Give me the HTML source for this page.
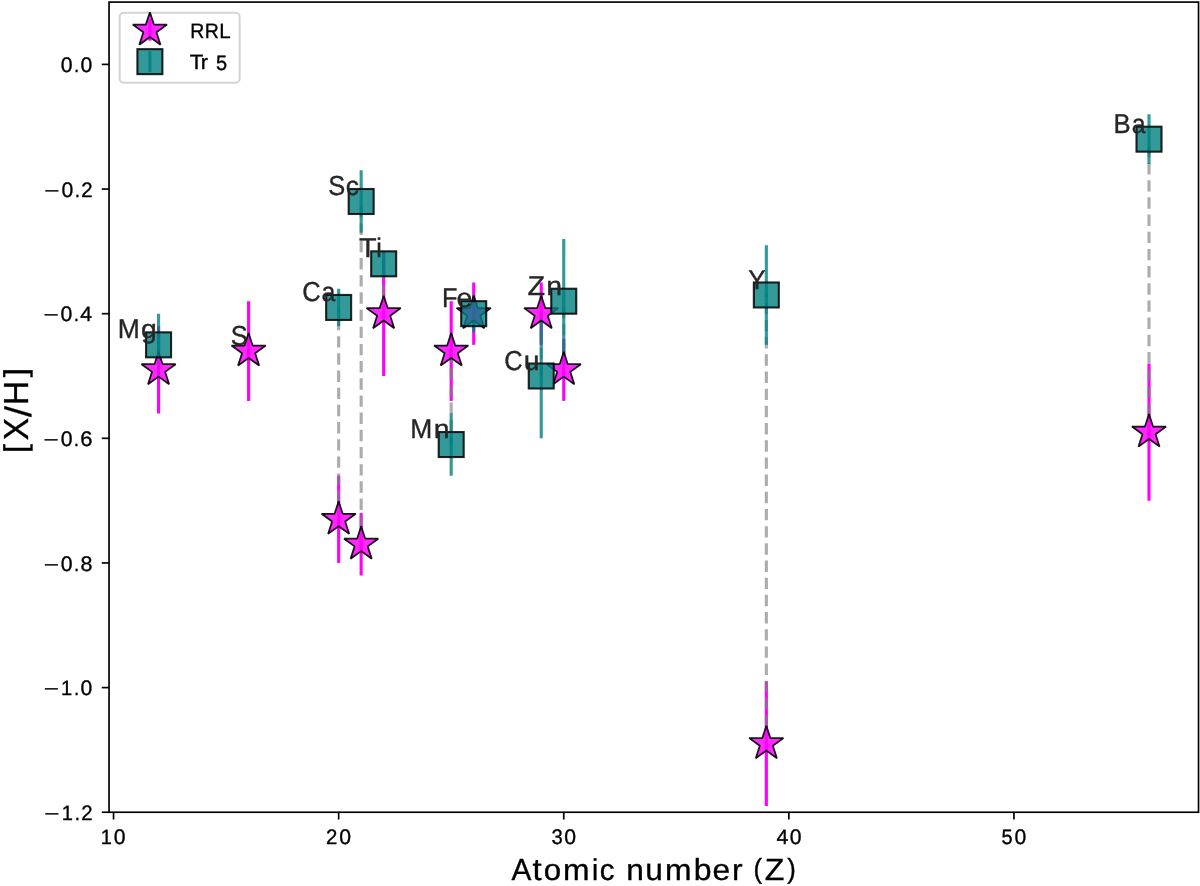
<!DOCTYPE html>
<html><head><meta charset="utf-8"><title>[X/H] vs Atomic number</title>
<style>
html,body{margin:0;padding:0;background:#fff;}
body{width:1200px;height:886px;overflow:hidden;position:relative;}
svg text{font-family:"Liberation Sans",sans-serif;text-rendering:geometricPrecision;}
</style></head><body>
<svg width="1200" height="886" viewBox="0 0 1200 886" style="position:absolute;left:0;top:0">
<rect width="1200" height="886" fill="#fff"/>
<defs><clipPath id="ax"><rect x="109.05" y="2.08" width="1089.48" height="810.16"/></clipPath></defs>
<g clip-path="url(#ax)">
<line x1="158.57" y1="326.14" x2="158.57" y2="413.39" stroke="#ff00ff" stroke-width="3.125"/>
<line x1="248.61" y1="301.22" x2="248.61" y2="400.93" stroke="#ff00ff" stroke-width="3.125"/>
<line x1="338.65" y1="475.71" x2="338.65" y2="562.96" stroke="#ff00ff" stroke-width="3.125"/>
<line x1="361.16" y1="513.10" x2="361.16" y2="575.42" stroke="#ff00ff" stroke-width="3.125"/>
<line x1="383.67" y1="251.36" x2="383.67" y2="376.00" stroke="#ff00ff" stroke-width="3.125"/>
<line x1="451.20" y1="301.22" x2="451.20" y2="400.93" stroke="#ff00ff" stroke-width="3.125"/>
<line x1="473.71" y1="282.52" x2="473.71" y2="344.84" stroke="#ff00ff" stroke-width="3.125"/>
<line x1="541.24" y1="282.52" x2="541.24" y2="344.84" stroke="#ff00ff" stroke-width="3.125"/>
<line x1="563.75" y1="338.61" x2="563.75" y2="400.93" stroke="#ff00ff" stroke-width="3.125"/>
<line x1="766.34" y1="681.37" x2="766.34" y2="806.01" stroke="#ff00ff" stroke-width="3.125"/>
<line x1="1149.01" y1="363.54" x2="1149.01" y2="500.64" stroke="#ff00ff" stroke-width="3.125"/>
<line x1="158.57" y1="369.77" x2="158.57" y2="344.84" stroke="#808080" stroke-opacity="0.65" stroke-width="3.125" stroke-dasharray="11.4 5.78"/>
<line x1="338.65" y1="519.34" x2="338.65" y2="307.45" stroke="#808080" stroke-opacity="0.65" stroke-width="3.125" stroke-dasharray="11.4 5.78"/>
<line x1="361.16" y1="544.26" x2="361.16" y2="201.50" stroke="#808080" stroke-opacity="0.65" stroke-width="3.125" stroke-dasharray="11.4 5.78"/>
<line x1="383.67" y1="313.68" x2="383.67" y2="263.82" stroke="#808080" stroke-opacity="0.65" stroke-width="3.125" stroke-dasharray="11.4 5.78"/>
<line x1="451.20" y1="351.07" x2="451.20" y2="444.55" stroke="#808080" stroke-opacity="0.65" stroke-width="3.125" stroke-dasharray="11.4 5.78"/>
<line x1="541.24" y1="313.68" x2="541.24" y2="376.00" stroke="#808080" stroke-opacity="0.65" stroke-width="3.125" stroke-dasharray="11.4 5.78"/>
<line x1="563.75" y1="369.77" x2="563.75" y2="301.22" stroke="#808080" stroke-opacity="0.65" stroke-width="3.125" stroke-dasharray="11.4 5.78"/>
<line x1="766.34" y1="743.69" x2="766.34" y2="294.98" stroke="#808080" stroke-opacity="0.65" stroke-width="3.125" stroke-dasharray="11.4 5.78"/>
<line x1="1149.01" y1="432.09" x2="1149.01" y2="139.18" stroke="#808080" stroke-opacity="0.65" stroke-width="3.125" stroke-dasharray="11.4 5.78"/>
<line x1="158.57" y1="313.68" x2="158.57" y2="376.00" stroke="#008080" stroke-opacity="0.8" stroke-width="3.125"/>
<line x1="338.65" y1="288.75" x2="338.65" y2="326.14" stroke="#008080" stroke-opacity="0.8" stroke-width="3.125"/>
<line x1="361.16" y1="170.34" x2="361.16" y2="232.66" stroke="#008080" stroke-opacity="0.8" stroke-width="3.125"/>
<line x1="383.67" y1="251.36" x2="383.67" y2="276.29" stroke="#008080" stroke-opacity="0.8" stroke-width="3.125"/>
<line x1="451.20" y1="413.39" x2="451.20" y2="475.71" stroke="#008080" stroke-opacity="0.8" stroke-width="3.125"/>
<line x1="473.71" y1="294.98" x2="473.71" y2="332.38" stroke="#008080" stroke-opacity="0.8" stroke-width="3.125"/>
<line x1="541.24" y1="313.68" x2="541.24" y2="438.32" stroke="#008080" stroke-opacity="0.8" stroke-width="3.125"/>
<line x1="563.75" y1="238.90" x2="563.75" y2="363.54" stroke="#008080" stroke-opacity="0.8" stroke-width="3.125"/>
<line x1="766.34" y1="245.13" x2="766.34" y2="344.84" stroke="#008080" stroke-opacity="0.8" stroke-width="3.125"/>
<line x1="1149.01" y1="114.26" x2="1149.01" y2="164.11" stroke="#008080" stroke-opacity="0.8" stroke-width="3.125"/>
<path d="M158.57,351.77 L154.53,364.21 L141.45,364.21 L152.03,371.89 L147.99,384.33 L158.57,376.64 L169.15,384.33 L165.11,371.89 L175.69,364.21 L162.61,364.21 Z" fill="#ff00ff" fill-opacity="0.85" stroke="#000" stroke-opacity="0.9" stroke-width="1.75" stroke-linejoin="bevel"/>
<path d="M248.61,333.07 L244.57,345.51 L231.49,345.51 L242.07,353.20 L238.03,365.63 L248.61,357.95 L259.19,365.63 L255.15,353.20 L265.73,345.51 L252.65,345.51 Z" fill="#ff00ff" fill-opacity="0.85" stroke="#000" stroke-opacity="0.9" stroke-width="1.75" stroke-linejoin="bevel"/>
<path d="M338.65,501.34 L334.61,513.77 L321.53,513.77 L332.11,521.46 L328.07,533.90 L338.65,526.21 L349.23,533.90 L345.19,521.46 L355.77,513.77 L342.69,513.77 Z" fill="#ff00ff" fill-opacity="0.85" stroke="#000" stroke-opacity="0.9" stroke-width="1.75" stroke-linejoin="bevel"/>
<path d="M361.16,526.26 L357.12,538.70 L344.04,538.70 L354.62,546.39 L350.58,558.83 L361.16,551.14 L371.74,558.83 L367.70,546.39 L378.28,538.70 L365.20,538.70 Z" fill="#ff00ff" fill-opacity="0.85" stroke="#000" stroke-opacity="0.9" stroke-width="1.75" stroke-linejoin="bevel"/>
<path d="M383.67,295.68 L379.63,308.12 L366.55,308.12 L377.13,315.80 L373.09,328.24 L383.67,320.56 L394.25,328.24 L390.21,315.80 L400.79,308.12 L387.71,308.12 Z" fill="#ff00ff" fill-opacity="0.85" stroke="#000" stroke-opacity="0.9" stroke-width="1.75" stroke-linejoin="bevel"/>
<path d="M451.20,333.07 L447.16,345.51 L434.08,345.51 L444.66,353.20 L440.62,365.63 L451.20,357.95 L461.78,365.63 L457.74,353.20 L468.32,345.51 L455.24,345.51 Z" fill="#ff00ff" fill-opacity="0.85" stroke="#000" stroke-opacity="0.9" stroke-width="1.75" stroke-linejoin="bevel"/>
<path d="M473.71,295.68 L469.67,308.12 L456.59,308.12 L467.17,315.80 L463.13,328.24 L473.71,320.56 L484.29,328.24 L480.25,315.80 L490.83,308.12 L477.75,308.12 Z" fill="#ff00ff" fill-opacity="0.85" stroke="#000" stroke-opacity="0.9" stroke-width="1.75" stroke-linejoin="bevel"/>
<path d="M541.24,295.68 L537.20,308.12 L524.12,308.12 L534.70,315.80 L530.66,328.24 L541.24,320.56 L551.82,328.24 L547.78,315.80 L558.36,308.12 L545.28,308.12 Z" fill="#ff00ff" fill-opacity="0.85" stroke="#000" stroke-opacity="0.9" stroke-width="1.75" stroke-linejoin="bevel"/>
<path d="M563.75,351.77 L559.71,364.21 L546.63,364.21 L557.21,371.89 L553.17,384.33 L563.75,376.64 L574.33,384.33 L570.29,371.89 L580.87,364.21 L567.79,364.21 Z" fill="#ff00ff" fill-opacity="0.85" stroke="#000" stroke-opacity="0.9" stroke-width="1.75" stroke-linejoin="bevel"/>
<path d="M766.34,725.69 L762.30,738.13 L749.22,738.13 L759.80,745.81 L755.76,758.25 L766.34,750.56 L776.92,758.25 L772.88,745.81 L783.46,738.13 L770.38,738.13 Z" fill="#ff00ff" fill-opacity="0.85" stroke="#000" stroke-opacity="0.9" stroke-width="1.75" stroke-linejoin="bevel"/>
<path d="M1149.01,414.09 L1144.97,426.53 L1131.89,426.53 L1142.47,434.21 L1138.43,446.65 L1149.01,438.96 L1159.59,446.65 L1155.55,434.21 L1166.13,426.53 L1153.05,426.53 Z" fill="#ff00ff" fill-opacity="0.85" stroke="#000" stroke-opacity="0.9" stroke-width="1.75" stroke-linejoin="bevel"/>
<rect x="146.07" y="332.34" width="25.0" height="25.0" fill="#008080" fill-opacity="0.8" stroke="#000" stroke-opacity="0.85" stroke-width="2.08"/>
<rect x="326.15" y="294.95" width="25.0" height="25.0" fill="#008080" fill-opacity="0.8" stroke="#000" stroke-opacity="0.85" stroke-width="2.08"/>
<rect x="348.66" y="189.00" width="25.0" height="25.0" fill="#008080" fill-opacity="0.8" stroke="#000" stroke-opacity="0.85" stroke-width="2.08"/>
<rect x="371.17" y="251.32" width="25.0" height="25.0" fill="#008080" fill-opacity="0.8" stroke="#000" stroke-opacity="0.85" stroke-width="2.08"/>
<rect x="438.70" y="432.05" width="25.0" height="25.0" fill="#008080" fill-opacity="0.8" stroke="#000" stroke-opacity="0.85" stroke-width="2.08"/>
<rect x="461.21" y="301.18" width="25.0" height="25.0" fill="#008080" fill-opacity="0.8" stroke="#000" stroke-opacity="0.85" stroke-width="2.08"/>
<rect x="528.74" y="363.50" width="25.0" height="25.0" fill="#008080" fill-opacity="0.8" stroke="#000" stroke-opacity="0.85" stroke-width="2.08"/>
<rect x="551.25" y="288.72" width="25.0" height="25.0" fill="#008080" fill-opacity="0.8" stroke="#000" stroke-opacity="0.85" stroke-width="2.08"/>
<rect x="753.84" y="282.48" width="25.0" height="25.0" fill="#008080" fill-opacity="0.8" stroke="#000" stroke-opacity="0.85" stroke-width="2.08"/>
<rect x="1136.51" y="126.68" width="25.0" height="25.0" fill="#008080" fill-opacity="0.8" stroke="#000" stroke-opacity="0.85" stroke-width="2.08"/>
</g>
<g transform="translate(117.02,338.64)" fill="#262626" stroke="#262626" stroke-linejoin="round" font-size="100" style="filter:grayscale(1)"><text transform="translate(0.66,-0.17) scale(0.2648,0.2718)" stroke-width="1.30">M</text><text transform="translate(23.91,-0.24) scale(0.2836,0.2650)" stroke-width="1.28">g</text></g>
<g transform="translate(230.42,344.87)" fill="#262626" stroke="#262626" stroke-linejoin="round" font-size="100" style="filter:grayscale(1)"><text transform="translate(0.23,-0.07) scale(0.2550,0.2742)" stroke-width="1.32">S</text></g>
<g transform="translate(302.15,301.25)" fill="#262626" stroke="#262626" stroke-linejoin="round" font-size="100" style="filter:grayscale(1)"><text transform="translate(0.11,-0.07) scale(0.2550,0.2742)" stroke-width="1.32">C</text><text transform="translate(19.34,-0.07) scale(0.2488,0.2675)" stroke-width="1.36">a</text></g>
<g transform="translate(328.08,195.30)" fill="#262626" stroke="#262626" stroke-linejoin="round" font-size="100" style="filter:grayscale(1)"><text transform="translate(0.23,-0.07) scale(0.2550,0.2742)" stroke-width="1.32">S</text><text transform="translate(17.74,-0.07) scale(0.2636,0.2675)" stroke-width="1.32">c</text></g>
<g transform="translate(359.44,257.62)" fill="#262626" stroke="#262626" stroke-linejoin="round" font-size="100" style="filter:grayscale(1)"><text transform="translate(-0.55,-0.17) scale(0.2892,0.2718)" stroke-width="1.25">T</text><text transform="translate(16.70,-0.17) scale(0.2503,0.2692)" stroke-width="1.35">i</text></g>
<g transform="translate(409.67,438.35)" fill="#262626" stroke="#262626" stroke-linejoin="round" font-size="100" style="filter:grayscale(1)"><text transform="translate(0.66,-0.17) scale(0.2648,0.2718)" stroke-width="1.30">M</text><text transform="translate(24.11,-0.17) scale(0.2837,0.2655)" stroke-width="1.27">n</text></g>
<g transform="translate(441.95,307.48)" fill="#262626" stroke="#262626" stroke-linejoin="round" font-size="100" style="filter:grayscale(1)"><text transform="translate(0.08,-0.17) scale(0.2528,0.2718)" stroke-width="1.33">F</text><text transform="translate(14.55,-0.07) scale(0.2850,0.2675)" stroke-width="1.27">e</text></g>
<g transform="translate(504.17,369.80)" fill="#262626" stroke="#262626" stroke-linejoin="round" font-size="100" style="filter:grayscale(1)"><text transform="translate(0.11,-0.07) scale(0.2550,0.2742)" stroke-width="1.32">C</text><text transform="translate(19.54,-0.07) scale(0.2837,0.2724)" stroke-width="1.26">u</text></g>
<g transform="translate(527.04,295.02)" fill="#262626" stroke="#262626" stroke-linejoin="round" font-size="100" style="filter:grayscale(1)"><text transform="translate(0.48,-0.17) scale(0.2878,0.2718)" stroke-width="1.25">Z</text><text transform="translate(19.30,-0.17) scale(0.2837,0.2655)" stroke-width="1.27">n</text></g>
<g transform="translate(748.80,288.78)" fill="#262626" stroke="#262626" stroke-linejoin="round" font-size="100" style="filter:grayscale(1)"><text transform="translate(-0.45,-0.17) scale(0.2616,0.2718)" stroke-width="1.31">Y</text></g>
<g transform="translate(1112.84,132.98)" fill="#262626" stroke="#262626" stroke-linejoin="round" font-size="100" style="filter:grayscale(1)"><text transform="translate(0.73,-0.17) scale(0.2565,0.2718)" stroke-width="1.32">B</text><text transform="translate(19.01,-0.07) scale(0.2488,0.2675)" stroke-width="1.36">a</text></g>
<rect x="109.05" y="2.08" width="1089.48" height="810.16" fill="none" stroke="#000" stroke-width="1.667"/>
<line x1="113.55" y1="812.24" x2="113.55" y2="819.53" stroke="#000" stroke-width="1.667"/>
<line x1="338.65" y1="812.24" x2="338.65" y2="819.53" stroke="#000" stroke-width="1.667"/>
<line x1="563.75" y1="812.24" x2="563.75" y2="819.53" stroke="#000" stroke-width="1.667"/>
<line x1="788.85" y1="812.24" x2="788.85" y2="819.53" stroke="#000" stroke-width="1.667"/>
<line x1="1013.95" y1="812.24" x2="1013.95" y2="819.53" stroke="#000" stroke-width="1.667"/>
<line x1="101.76" y1="64.40" x2="109.05" y2="64.40" stroke="#000" stroke-width="1.667"/>
<line x1="101.76" y1="189.04" x2="109.05" y2="189.04" stroke="#000" stroke-width="1.667"/>
<line x1="101.76" y1="313.68" x2="109.05" y2="313.68" stroke="#000" stroke-width="1.667"/>
<line x1="101.76" y1="438.32" x2="109.05" y2="438.32" stroke="#000" stroke-width="1.667"/>
<line x1="101.76" y1="562.96" x2="109.05" y2="562.96" stroke="#000" stroke-width="1.667"/>
<line x1="101.76" y1="687.60" x2="109.05" y2="687.60" stroke="#000" stroke-width="1.667"/>
<line x1="101.76" y1="812.24" x2="109.05" y2="812.24" stroke="#000" stroke-width="1.667"/>
<g transform="translate(99.84,843.90)" fill="#000" stroke="#000" stroke-linejoin="round" font-size="100" style="filter:grayscale(1)"><text transform="translate(0.93,-0.17) scale(0.2016,0.2090)" stroke-width="1.70">1</text><text transform="translate(13.97,-0.09) scale(0.2123,0.2109)" stroke-width="1.65">0</text></g>
<g transform="translate(325.33,843.90)" fill="#000" stroke="#000" stroke-linejoin="round" font-size="100" style="filter:grayscale(1)"><text transform="translate(0.67,-0.17) scale(0.2040,0.2098)" stroke-width="1.69">2</text><text transform="translate(13.97,-0.09) scale(0.2123,0.2109)" stroke-width="1.65">0</text></g>
<g transform="translate(550.40,843.90)" fill="#000" stroke="#000" stroke-linejoin="round" font-size="100" style="filter:grayscale(1)"><text transform="translate(0.99,-0.09) scale(0.2035,0.2109)" stroke-width="1.69">3</text><text transform="translate(13.97,-0.09) scale(0.2123,0.2109)" stroke-width="1.65">0</text></g>
<g transform="translate(775.78,843.90)" fill="#000" stroke="#000" stroke-linejoin="round" font-size="100" style="filter:grayscale(1)"><text transform="translate(0.70,-0.17) scale(0.2127,0.2090)" stroke-width="1.66">4</text><text transform="translate(13.97,-0.09) scale(0.2123,0.2109)" stroke-width="1.65">0</text></g>
<g transform="translate(1000.59,843.90)" fill="#000" stroke="#000" stroke-linejoin="round" font-size="100" style="filter:grayscale(1)"><text transform="translate(0.98,-0.09) scale(0.1998,0.2102)" stroke-width="1.71">5</text><text transform="translate(13.97,-0.09) scale(0.2123,0.2109)" stroke-width="1.65">0</text></g>
<g transform="translate(60.01,72.27)" fill="#000" stroke="#000" stroke-linejoin="round" font-size="100" style="filter:grayscale(1)"><text transform="translate(0.72,-0.09) scale(0.2123,0.2109)" stroke-width="1.65">0</text><text transform="translate(13.93,-0.17) scale(0.1886,0.2016)" stroke-width="1.79">.</text><text transform="translate(20.59,-0.09) scale(0.2123,0.2109)" stroke-width="1.65">0</text></g>
<g transform="translate(43.26,196.91)" fill="#000" stroke="#000" stroke-linejoin="round" font-size="100" style="filter:grayscale(1)"><text transform="translate(1.09,-0.14) scale(0.2612,0.1862)" stroke-width="1.56">−</text><text transform="translate(18.17,-0.09) scale(0.2123,0.2109)" stroke-width="1.65">0</text><text transform="translate(31.39,-0.17) scale(0.1886,0.2016)" stroke-width="1.79">.</text><text transform="translate(38.00,-0.17) scale(0.2040,0.2098)" stroke-width="1.69">2</text></g>
<g transform="translate(42.34,321.55)" fill="#000" stroke="#000" stroke-linejoin="round" font-size="100" style="filter:grayscale(1)"><text transform="translate(1.09,-0.14) scale(0.2612,0.1862)" stroke-width="1.56">−</text><text transform="translate(18.17,-0.09) scale(0.2123,0.2109)" stroke-width="1.65">0</text><text transform="translate(31.39,-0.17) scale(0.1886,0.2016)" stroke-width="1.79">.</text><text transform="translate(38.03,-0.17) scale(0.2127,0.2090)" stroke-width="1.66">4</text></g>
<g transform="translate(42.48,446.19)" fill="#000" stroke="#000" stroke-linejoin="round" font-size="100" style="filter:grayscale(1)"><text transform="translate(1.09,-0.14) scale(0.2612,0.1862)" stroke-width="1.56">−</text><text transform="translate(18.17,-0.09) scale(0.2123,0.2109)" stroke-width="1.65">0</text><text transform="translate(31.39,-0.17) scale(0.1886,0.2016)" stroke-width="1.79">.</text><text transform="translate(37.84,-0.09) scale(0.2197,0.2109)" stroke-width="1.63">6</text></g>
<g transform="translate(42.59,570.83)" fill="#000" stroke="#000" stroke-linejoin="round" font-size="100" style="filter:grayscale(1)"><text transform="translate(1.09,-0.14) scale(0.2612,0.1862)" stroke-width="1.56">−</text><text transform="translate(18.17,-0.09) scale(0.2123,0.2109)" stroke-width="1.65">0</text><text transform="translate(31.39,-0.17) scale(0.1886,0.2016)" stroke-width="1.79">.</text><text transform="translate(37.98,-0.09) scale(0.2145,0.2109)" stroke-width="1.65">8</text></g>
<g transform="translate(42.55,695.47)" fill="#000" stroke="#000" stroke-linejoin="round" font-size="100" style="filter:grayscale(1)"><text transform="translate(1.09,-0.14) scale(0.2612,0.1862)" stroke-width="1.56">−</text><text transform="translate(18.38,-0.17) scale(0.2016,0.2090)" stroke-width="1.70">1</text><text transform="translate(31.39,-0.17) scale(0.1886,0.2016)" stroke-width="1.79">.</text><text transform="translate(38.05,-0.09) scale(0.2123,0.2109)" stroke-width="1.65">0</text></g>
<g transform="translate(43.26,820.11)" fill="#000" stroke="#000" stroke-linejoin="round" font-size="100" style="filter:grayscale(1)"><text transform="translate(1.09,-0.14) scale(0.2612,0.1862)" stroke-width="1.56">−</text><text transform="translate(18.38,-0.17) scale(0.2016,0.2090)" stroke-width="1.70">1</text><text transform="translate(31.39,-0.17) scale(0.1886,0.2016)" stroke-width="1.79">.</text><text transform="translate(38.00,-0.17) scale(0.2040,0.2098)" stroke-width="1.69">2</text></g>
<g transform="translate(511.26,880.20)" fill="#000" stroke="#000" stroke-linejoin="round" font-size="100" style="filter:grayscale(1)"><text transform="translate(0.35,-0.17) scale(0.2981,0.3049)" stroke-width="1.16">A</text><text transform="translate(21.31,-0.42) scale(0.3301,0.3085)" stroke-width="1.10">t</text><text transform="translate(32.41,-0.05) scale(0.3128,0.3002)" stroke-width="1.14">o</text><text transform="translate(51.79,-0.17) scale(0.3188,0.2979)" stroke-width="1.14">m</text><text transform="translate(80.73,-0.17) scale(0.2807,0.3019)" stroke-width="1.20">i</text><text transform="translate(88.61,-0.05) scale(0.2941,0.3002)" stroke-width="1.18">c</text><text transform="translate(114.96,-0.17) scale(0.3165,0.2979)" stroke-width="1.14">n</text><text transform="translate(133.92,-0.06) scale(0.3165,0.3056)" stroke-width="1.13">u</text><text transform="translate(153.81,-0.17) scale(0.3188,0.2979)" stroke-width="1.14">m</text><text transform="translate(182.52,-0.06) scale(0.3199,0.3035)" stroke-width="1.12">b</text><text transform="translate(201.28,-0.05) scale(0.3179,0.3002)" stroke-width="1.13">e</text><text transform="translate(220.78,-0.17) scale(0.3188,0.2979)" stroke-width="1.14">r</text><text transform="translate(242.26,-2.03) scale(0.2566,0.2759)" stroke-width="1.31">(</text><text transform="translate(253.54,-0.17) scale(0.3209,0.3049)" stroke-width="1.12">Z</text><text transform="translate(275.90,-2.03) scale(0.2566,0.2759)" stroke-width="1.31">)</text></g>
<g transform="translate(28.30,453.92) rotate(-90)" fill="#000" stroke="#000" stroke-linejoin="round" font-size="100" style="filter:grayscale(1)"><text transform="translate(0.70,-2.32) scale(0.3366,0.3150)" stroke-width="1.07">[</text><text transform="translate(13.70,-0.17) scale(0.3347,0.3480)" stroke-width="1.03">X</text><text transform="translate(36.81,2.56) scale(0.3939,0.3681)" stroke-width="0.92">/</text><text transform="translate(48.80,-0.17) scale(0.3320,0.3480)" stroke-width="1.03">H</text><text transform="translate(76.79,-2.32) scale(0.3366,0.3150)" stroke-width="1.07">]</text></g>
<rect x="119.7" y="12.8" width="119.95" height="70" rx="4" ry="4" fill="#fff" fill-opacity="0.8" stroke="#cccccc" stroke-opacity="0.85" stroke-width="2"/>
<line x1="149.9" y1="19.7" x2="149.9" y2="40.7" stroke="#ff00ff" stroke-width="3.125"/>
<path d="M149.90,12.20 L145.86,24.64 L132.78,24.64 L143.36,32.32 L139.32,44.76 L149.90,37.08 L160.48,44.76 L156.44,32.32 L167.02,24.64 L153.94,24.64 Z" fill="#ff00ff" fill-opacity="0.85" stroke="#000" stroke-opacity="0.9" stroke-width="1.75" stroke-linejoin="bevel"/>
<line x1="149.9" y1="51.15" x2="149.9" y2="72.15" stroke="#008080" stroke-opacity="0.8" stroke-width="3.125"/>
<rect x="137.4" y="49.15" width="25.0" height="25.0" fill="#008080" fill-opacity="0.8" stroke="#000" stroke-opacity="0.85" stroke-width="2.08"/>
<g transform="translate(189.76,37.70)" fill="#000" stroke="#000" stroke-linejoin="round" font-size="100" style="filter:grayscale(1)"><text transform="translate(0.59,-0.17) scale(0.1944,0.2090)" stroke-width="1.74">R</text><text transform="translate(15.07,-0.17) scale(0.1944,0.2090)" stroke-width="1.74">R</text><text transform="translate(29.47,-0.17) scale(0.2064,0.2090)" stroke-width="1.69">L</text></g>
<g transform="translate(190.06,69.60)" fill="#000" stroke="#000" stroke-linejoin="round" font-size="100" style="filter:grayscale(1)"><text transform="translate(-0.38,-0.17) scale(0.2210,0.2090)" stroke-width="1.63">T</text><text transform="translate(10.72,-0.17) scale(0.2181,0.2038)" stroke-width="1.66">r</text><text transform="translate(25.83,-0.09) scale(0.1998,0.2102)" stroke-width="1.71">5</text></g>
</svg>
</body></html>
